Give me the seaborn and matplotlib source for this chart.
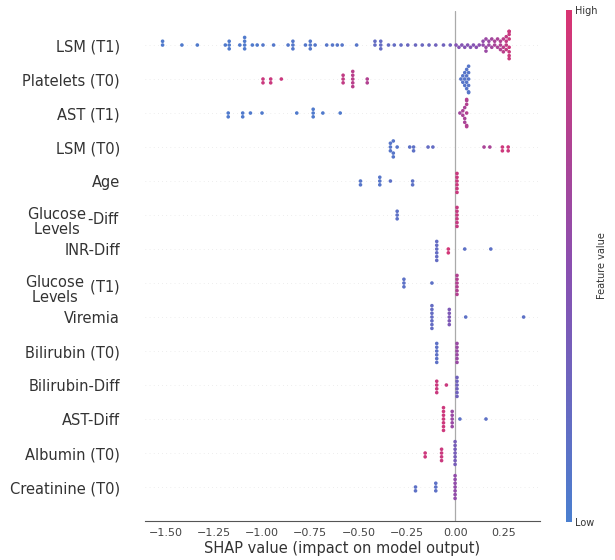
import warnings
import numpy as np
import pandas as pd
import matplotlib
matplotlib.use('Agg')
import matplotlib.pyplot as plt
from matplotlib.colors import LinearSegmentedColormap, Normalize
from matplotlib.cm import ScalarMappable
from matplotlib.ticker import AutoMinorLocator
import seaborn as sns

warnings.filterwarnings('ignore')

# (shap value, number of points, feature value 0=low 1=high)
lsm_t1 = [(-1.515, 2, 0.05), (-1.415, 1, 0.05), (-1.335, 1, 0.05), (-1.19, 1, 0.05),
          (-1.17, 3, 0.05), (-1.115, 1, 0.05), (-1.09, 4, 0.05), (-1.05, 1, 0.05),
          (-1.025, 1, 0.05), (-0.995, 1, 0.08), (-0.94, 1, 0.08), (-0.865, 1, 0.08),
          (-0.84, 3, 0.08), (-0.775, 1, 0.08), (-0.75, 3, 0.08), (-0.725, 1, 0.08),
          (-0.665, 1, 0.1), (-0.635, 1, 0.1), (-0.61, 1, 0.1), (-0.585, 1, 0.1),
          (-0.51, 1, 0.1), (-0.415, 2, 0.2), (-0.385, 3, 0.2), (-0.345, 1, 0.2),
          (-0.315, 1, 0.2), (-0.28, 1, 0.2), (-0.245, 1, 0.25), (-0.205, 1, 0.25),
          (-0.17, 1, 0.25), (-0.135, 1, 0.25), (-0.10, 1, 0.3), (-0.06, 1, 0.3),
          (-0.025, 1, 0.3), (0.005, 1, 0.45), (0.02, 1, 0.45), (0.035, 1, 0.45),
          (0.05, 1, 0.45), (0.065, 1, 0.45), (0.08, 1, 0.45), (0.095, 1, 0.45),
          (0.11, 1, 0.5), (0.125, 1, 0.5), (0.145, 2, 0.55), (0.16, 3, 0.6),
          (0.175, 2, 0.6), (0.19, 2, 0.65), (0.205, 2, 0.7), (0.22, 2, 0.7),
          (0.235, 3, 0.75), (0.25, 3, 0.8), (0.265, 4, 0.85), (0.28, 8, 0.9)]
platelets_t0 = [(-0.995, 2, 0.9), (-0.955, 2, 0.9), (-0.90, 1, 0.9), (-0.58, 3, 0.85),
                (-0.53, 5, 0.8), (-0.455, 2, 0.75), (0.03, 1, 0.1), (0.04, 2, 0.1),
                (0.05, 3, 0.1), (0.06, 4, 0.1), (0.07, 6, 0.1)]
ast_t1 = [(-1.175, 2, 0.05), (-1.10, 2, 0.05), (-1.06, 1, 0.05), (-1.00, 1, 0.05),
          (-0.82, 1, 0.05), (-0.735, 3, 0.05), (-0.685, 1, 0.05), (-0.595, 1, 0.05),
          (0.025, 1, 0.65), (0.04, 2, 0.7), (0.05, 3, 0.7), (0.06, 6, 0.75)]
lsm_t0 = [(-0.335, 3, 0.1), (-0.32, 3, 0.1), (-0.30, 1, 0.1), (-0.235, 1, 0.15),
          (-0.215, 2, 0.15), (-0.14, 1, 0.2), (-0.115, 1, 0.2), (0.15, 1, 0.7),
          (0.18, 1, 0.7), (0.245, 2, 0.92), (0.275, 2, 0.92)]
age = [(-0.49, 2, 0.1), (-0.39, 3, 0.1), (-0.335, 1, 0.15), (-0.22, 2, 0.15),
       (0.01, 6, 0.9)]
glucose_diff = [(-0.30, 3, 0.15), (0.01, 6, 0.88)]
inr_diff = [(-0.095, 6, 0.2), (-0.035, 2, 0.95), (0.05, 1, 0.15), (0.185, 1, 0.15)]
glucose_t1 = [(-0.265, 3, 0.15), (-0.12, 1, 0.15), (0.01, 6, 0.75)]
viremia = [(-0.12, 7, 0.2), (-0.03, 5, 0.4), (0.055, 1, 0.15), (0.355, 1, 0.15)]
bilirubin_t0 = [(-0.095, 6, 0.15), (0.01, 6, 0.6)]
bilirubin_diff = [(-0.095, 4, 0.9), (-0.045, 1, 0.9), (0.01, 6, 0.3)]
ast_diff = [(-0.06, 7, 0.92), (-0.015, 5, 0.6), (0.025, 1, 0.15), (0.16, 1, 0.15)]
albumin_t0 = [(-0.155, 2, 0.92), (-0.07, 4, 0.9), (0.0, 7, 0.35)]
creatinine_t0 = [(-0.205, 2, 0.15), (-0.10, 3, 0.15), (0.0, 7, 0.55)]

feature_labels = ['LSM (T1)', 'Platelets (T0)', 'AST (T1)', 'LSM (T0)', 'Age',
                  r'$\genfrac{}{}{0}{0}{\mathrm{Glucose}}{\mathrm{Levels}}$-Diff',
                  'INR-Diff',
                  r'$\genfrac{}{}{0}{0}{\mathrm{Glucose}}{\mathrm{Levels}}$ (T1)',
                  'Viremia', 'Bilirubin (T0)', 'Bilirubin-Diff', 'AST-Diff',
                  'Albumin (T0)', 'Creatinine (T0)']
feature_groups = [lsm_t1, platelets_t0, ast_t1, lsm_t0, age, glucose_diff, inr_diff,
                  glucose_t1, viremia, bilirubin_t0, bilirubin_diff, ast_diff,
                  albumin_t0, creatinine_t0]

x_ticks = [-1.5, -1.25, -1.0, -0.75, -0.5, -0.25, 0.0, 0.25]


def build_frame(labels, groups):
    rows = []
    for label, group in zip(labels, groups):
        for shap_val, count, feat_val in group:
            rows += [(label, shap_val, feat_val)] * count
    return pd.DataFrame(rows, columns=['feature', 'shap', 'fval'])


if __name__ == '__main__':
    sns.set_style('white')
    plt.rcParams['mathtext.fontset'] = 'dejavusans'

    cmap = LinearSegmentedColormap.from_list('shap_like', ['#4a7fcf', '#8a4fb0', '#d93472'])
    df = build_frame(feature_labels, feature_groups)
    pal = {v: cmap(v) for v in df['fval'].unique()}

    fig = plt.figure(figsize=(6.15, 5.6), dpi=100)
    ax = fig.add_axes([0.2358, 0.0696, 0.6423, 0.9107])

    ax.axvline(0, color='#aaaaaa', lw=0.9, zorder=-1)
    for i in range(len(feature_labels)):
        ax.axhline(i, color='#dddddd', lw=0.5, dashes=(1, 5), zorder=-1)

    sns.swarmplot(data=df, x='shap', y='feature', hue='fval', palette=pal,
                  order=feature_labels, orient='h', size=2.6, linewidth=0,
                  legend=False, ax=ax)

    ax.set_xlim(-1.606, 0.44)
    ax.set_ylim(len(feature_labels), -1)
    ax.set_xticks(x_ticks)
    ax.xaxis.set_minor_locator(AutoMinorLocator(5))
    ax.tick_params(axis='x', which='major', length=3, width=0.7, labelsize=8,
                   colors='#444444', pad=2)
    ax.tick_params(axis='x', which='minor', length=1.5, width=0.5, color='#444444')
    ax.tick_params(axis='y', length=0, labelsize=10.5, pad=18, labelcolor='#333333')
    ax.set_ylabel('')
    ax.set_xlabel('SHAP value (impact on model output)', fontsize=10.5,
                  color='#333333', labelpad=2)
    for side in ['left', 'top', 'right']:
        ax.spines[side].set_visible(False)
    ax.spines['bottom'].set_color('#555555')
    ax.spines['bottom'].set_linewidth(0.8)

    cax = fig.add_axes([0.920, 0.068, 0.0098, 0.914])
    sm = ScalarMappable(cmap=cmap, norm=Normalize(0, 1))
    cb = fig.colorbar(sm, cax=cax, ticks=[0, 1])
    cb.set_ticklabels(['Low', 'High'])
    cb.ax.tick_params(length=0, labelsize=7, pad=2, labelcolor='#333333')
    cb.outline.set_visible(False)
    cb.set_label('Feature value', size=7, labelpad=0, color='#333333')

    fig.savefig('out.png', dpi=100)
